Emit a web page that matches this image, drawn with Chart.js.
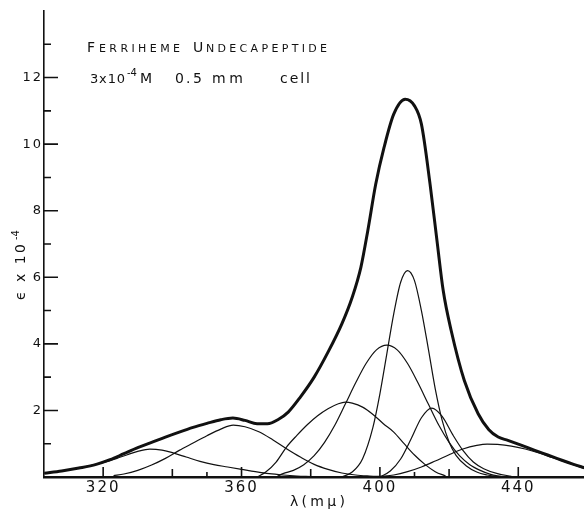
<!DOCTYPE html>
<html>
<head>
<meta charset="utf-8">
<script src="https://cdn.jsdelivr.net/npm/chart.js@4.4.1/dist/chart.umd.min.js"></script>
<style>
  html, body { margin: 0; padding: 0; background: #fff; }
  canvas { display: block; }
</style>
</head>
<body>
<canvas id="spectrum" width="584" height="511"></canvas>
<script>
// Ferriheme undecapeptide absorption (λ in mμ, ε × 10⁻⁴) and its resolved bands

const totalX = [303, 308, 313, 318, 322, 326, 330, 334, 338, 342, 346, 350, 354, 357.5, 361, 364.5, 367.5, 370.5, 373.5, 377, 381, 385, 389, 392, 394.5, 396.5, 398.8, 401.2, 404, 407.3, 410, 412, 414.5, 416.5, 418.3, 420.6, 424.4, 428.4, 431.5, 434.2, 437, 441, 444.6, 448.5, 452.4, 456, 459.3];
const totalY = [0.11, 0.18, 0.27, 0.38, 0.52, 0.7, 0.88, 1.04, 1.2, 1.35, 1.49, 1.61, 1.72, 1.77, 1.7, 1.6, 1.6, 1.72, 1.95, 2.4, 3.0, 3.75, 4.6, 5.4, 6.3, 7.4, 8.8, 9.9, 10.9, 11.35, 11.15, 10.6, 8.8, 7.1, 5.6, 4.4, 2.9, 1.9, 1.42, 1.2, 1.1, 0.95, 0.81, 0.66, 0.51, 0.38, 0.27];

const band334X = [303, 308, 313, 318, 321, 324, 327, 330, 333.5, 337, 340, 344, 348, 352, 356, 360, 364, 368, 372, 376, 380];
const band334Y = [0.11, 0.18, 0.27, 0.38, 0.46, 0.56, 0.67, 0.77, 0.84, 0.81, 0.73, 0.6, 0.47, 0.37, 0.3, 0.23, 0.16, 0.1, 0.06, 0.03, 0.01];

const band358X = [323, 326, 330, 334, 338, 342, 346, 350, 354, 357.6, 361, 365, 369, 373, 377, 381, 385, 389, 393, 397, 401];
const band358Y = [0.04, 0.09, 0.2, 0.36, 0.56, 0.8, 1.02, 1.24, 1.44, 1.56, 1.51, 1.36, 1.12, 0.85, 0.6, 0.38, 0.23, 0.12, 0.06, 0.03, 0.01];

const band390X = [364.5, 367, 370, 373, 376, 379, 382, 385, 388, 390, 392, 395, 398, 401, 404, 407, 410, 413, 416, 419];
const band390Y = [0, 0.15, 0.45, 0.9, 1.25, 1.57, 1.84, 2.05, 2.2, 2.25, 2.22, 2.1, 1.88, 1.6, 1.35, 1.0, 0.66, 0.38, 0.16, 0.03];

const band402X = [370, 372, 375, 378, 381, 384, 387, 390, 393, 396, 399, 402, 405, 408, 411, 414, 417, 420, 423, 426, 429, 432, 435];
const band402Y = [0, 0.1, 0.2, 0.37, 0.64, 1.04, 1.56, 2.19, 2.83, 3.41, 3.82, 3.96, 3.82, 3.41, 2.83, 2.19, 1.56, 1.04, 0.64, 0.37, 0.2, 0.08, 0.02];

const band408X = [389, 392, 395, 398, 400, 402, 404, 406, 408, 410, 412, 414, 416, 418, 420, 422, 425, 428, 431, 434];
const band408Y = [0, 0.15, 0.55, 1.5, 2.5, 3.7, 4.9, 5.85, 6.2, 5.9, 5.0, 3.85, 2.65, 1.7, 1.05, 0.65, 0.33, 0.15, 0.06, 0.01];

const band415X = [400, 403, 406, 409, 412, 415, 418, 421, 424, 427, 430, 434, 438];
const band415Y = [0, 0.18, 0.54, 1.14, 1.78, 2.07, 1.82, 1.28, 0.8, 0.45, 0.25, 0.1, 0.02];

const band431X = [400, 404, 408, 412, 416, 420, 424, 428, 431, 434, 438, 442, 446, 450, 454, 459];
const band431Y = [0.01, 0.06, 0.16, 0.3, 0.48, 0.67, 0.84, 0.95, 0.99, 0.98, 0.93, 0.84, 0.72, 0.58, 0.44, 0.26];

// Axis ticks
const xLabelTicks = [320, 360, 400, 440];
const xMinorTicks = [340, 380, 420];
const xSmallTicks = [350, 410];
const yLabelTicks = [2, 4, 6, 8, 10, 12];
const yMinorTicks = [1, 3, 5, 7, 9, 11, 13];

const INK = '#111';

function points(xs, ys) {
  return xs.map((x, i) => ({ x, y: ys[i] }));
}

function band(xs, ys) {
  return {
    data: points(xs, ys),
    borderColor: INK,
    borderWidth: 1.2,
    pointRadius: 0,
    fill: false,
    cubicInterpolationMode: 'monotone'
  };
}

const datasets = [
  band(band334X, band334Y),
  band(band358X, band358Y),
  band(band390X, band390Y),
  band(band402X, band402Y),
  band(band408X, band408Y),
  band(band415X, band415Y),
  band(band431X, band431Y),
  {
    data: points(totalX, totalY),
    borderColor: INK,
    borderWidth: 3,
    pointRadius: 0,
    fill: false,
    cubicInterpolationMode: 'monotone'
  }
];

// Draws a string with its letters spread evenly over a given width
function spacedText(ctx, text, x, y, width) {
  const chars = Array.from(text);
  const base = chars.reduce((s, c) => s + ctx.measureText(c).width, 0);
  const gap = chars.length > 1 ? (width - base) / (chars.length - 1) : 0;
  let cx = x;
  for (const c of chars) {
    ctx.fillText(c, cx, y);
    cx += ctx.measureText(c).width + gap;
  }
}

// Inward tick marks on both axes, plus titles and the caption
const decorations = {
  id: 'decorations',
  beforeDraw(chart) {
    chart.ctx.letterSpacing = '2px';
  },
  afterDraw(chart) {
    const ctx = chart.ctx;
    const xs = chart.scales.x;
    const ys = chart.scales.y;
    const area = chart.chartArea;
    ctx.save();
    ctx.letterSpacing = '0px';
    ctx.strokeStyle = INK;
    ctx.lineWidth = 1.6;
    ctx.beginPath();
    const base = ys.getPixelForValue(0);
    const vTick = (v, len) => {
      const px = xs.getPixelForValue(v);
      ctx.moveTo(px, base);
      ctx.lineTo(px, base - len);
    };
    xLabelTicks.forEach(v => vTick(v, 10));
    xMinorTicks.forEach(v => vTick(v, 8));
    xSmallTicks.forEach(v => vTick(v, 5));
    const hTick = (v, len) => {
      const py = ys.getPixelForValue(v);
      ctx.moveTo(area.left, py);
      ctx.lineTo(area.left + len, py);
    };
    yLabelTicks.forEach(v => hTick(v, 14));
    yMinorTicks.forEach(v => hTick(v, 7));
    ctx.stroke();

    ctx.fillStyle = INK;
    ctx.textBaseline = 'alphabetic';
    ctx.textAlign = 'left';

    // caption, line 1 (small capitals)
    const big = '14px "DejaVu Sans"';
    const small = '11px "DejaVu Sans"';
    ctx.font = big; ctx.fillText('F', 87, 52);
    ctx.font = small; spacedText(ctx, 'ERRIHEME', 99, 52, 81);
    ctx.font = big; ctx.fillText('U', 193, 52);
    ctx.font = small; spacedText(ctx, 'NDECAPEPTIDE', 206, 52, 121);

    // caption, line 2
    ctx.font = '13px "DejaVu Sans"';
    spacedText(ctx, '3x10', 90, 83, 35);
    ctx.font = '10px "DejaVu Sans"';
    ctx.fillText('-4', 127, 76);
    ctx.font = '14px "DejaVu Sans"';
    ctx.fillText('M', 140, 83);
    ctx.fillText('0', 175, 83);
    ctx.fillText('.', 186, 83);
    ctx.fillText('5', 193, 83);
    spacedText(ctx, 'mm', 212, 83, 31);
    spacedText(ctx, 'cell', 280, 83, 30);

    // x title
    ctx.font = '14px "DejaVu Sans"';
    spacedText(ctx, 'λ(mμ)', 290, 506, 55);

    // y title, rotated
    ctx.translate(25, 300);
    ctx.rotate(-Math.PI / 2);
    ctx.font = '14px "DejaVu Sans"';
    spacedText(ctx, 'ϵ x 10', 0, 0, 56);
    ctx.font = '10px "DejaVu Sans"';
    ctx.fillText('-4', 60, -6);
    ctx.restore();
  }
};

new Chart(document.getElementById('spectrum'), {
  type: 'line',
  data: { datasets },
  options: {
    responsive: false,
    animation: false,
    devicePixelRatio: 1,
    layout: { padding: { top: 11, right: 0, left: 0, bottom: 0 } },
    plugins: { legend: { display: false }, tooltip: { enabled: false } },
    scales: {
      x: {
        type: 'linear',
        min: 302.9,
        max: 459.0,
        afterFit: s => { s.height = 34; },
        afterBuildTicks: s => { s.ticks = xLabelTicks.map(v => ({ value: v })); },
        grid: { display: false, drawTicks: false },
        border: { display: true, color: INK, width: 2.5 },
        ticks: {
          autoSkip: false,
          maxRotation: 0,
          padding: 2,
          color: INK,
          font: { family: 'DejaVu Sans', size: 15 },
          callback: v => String(v)
        }
      },
      y: {
        type: 'linear',
        min: 0,
        max: 14,
        afterFit: s => { s.width = 44; },
        afterBuildTicks: s => { s.ticks = yLabelTicks.map(v => ({ value: v })); },
        grid: { display: false, drawTicks: false },
        border: { display: true, color: INK, width: 1.6 },
        ticks: {
          padding: 1,
          color: INK,
          font: { family: 'DejaVu Sans', size: 13 },
          callback: v => String(v)
        }
      }
    }
  },
  plugins: [decorations]
});
</script>
</body>
</html>
